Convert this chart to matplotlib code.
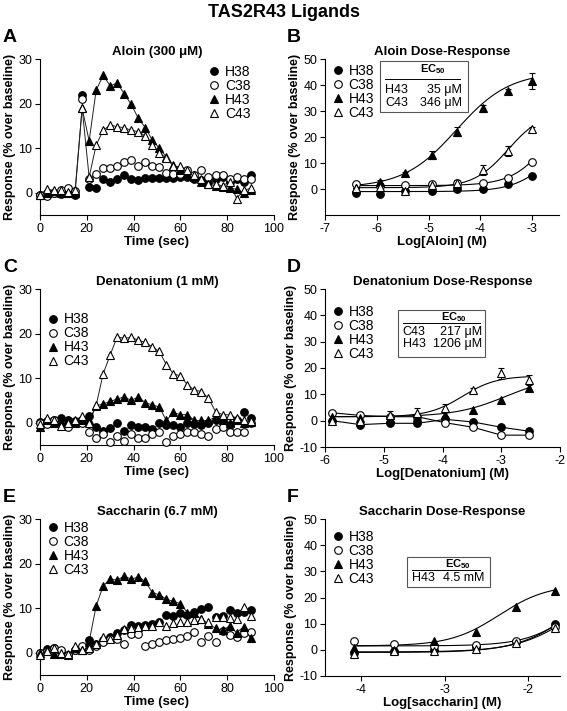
import numpy as np
import matplotlib
matplotlib.use('Agg')
import matplotlib.pyplot as plt
from matplotlib.lines import Line2D
from matplotlib.patches import Rectangle

plt.rcParams['font.family'] = ['Liberation Sans', 'DejaVu Sans']
plt.rcParams['mathtext.fontset'] = 'custom'
plt.rcParams['mathtext.rm'] = 'Liberation Sans'
plt.rcParams['mathtext.bf'] = 'Liberation Sans:bold'
plt.rcParams['axes.unicode_minus'] = False

# ---- time course data (every 3 s, 0-90 s) ----
time_s = [0, 3, 6, 9, 12, 15, 18, 21, 24, 27, 30, 33, 36, 39, 42, 45,
          48, 51, 54, 57, 60, 63, 66, 69, 72, 75, 78, 81, 84, 87, 90]

A_H38 = [-0.5, 0, 0, -0.3, 0, -0.5, 22, 1.2, 1, 3, 2.5, 3, 4, 3, 2.8, 3.2,
         3.3, 3.3, 3.2, 3.3, 3.5, 3.5, 3, 2.8, 2.5, 3, 3.5, 2.5, 3, 2.5, 4]
A_C38 = [-0.5, -0.8, 0, 0.5, 1, 0.3, 21, 3, 4.2, 5.5, 5.5, 6, 7, 7.3, 6, 6.8,
         6, 5.8, 4.5, 4.2, 4.2, 5, 4, 5, 3.5, 4, 4, 3, 3.5, 3, 3]
A_H43 = [-0.5, 0, 0.3, 0, 0, 0, 19, 11.6, 23, 26.3, 24, 24.6, 22.2, 19.8, 16.7, 14.6,
         11.8, 10, 8, 6.3, 5.2, 4.3, 3.5, 2.5, 2, 1.5, 1.2, 1, 0.8, 0, 0.5]
A_C43 = [-0.5, 0.8, 0.5, 0.5, 0.2, 0.5, 19, 3.5, 10.7, 14, 15.2, 14.8, 14.6, 14, 13.7, 12.7,
         10.7, 8.9, 7.8, 5.9, 5.9, 5, 4, 3, 2, 2, 1.5, 2.5, -1.3, 0.5, 1]

C_H38 = [0.2, 0.3, 0.5, 1, 0.5, 0.3, 0.5, 1.5, -1, -1.8, -1.2, 0, -1.8, -0.5, -1, -1,
         -1.5, 0, -0.5, -0.5, -1, 0, -0.3, -0.5, 0, 0.5, 0.3, -0.5, 0.5, 2.3, 1]
C_C38 = [0, -0.3, 0.5, 0, -1, 0, 0, -2, -3.5, -2.5, -4.3, -3, -4, -2.5, -3.5, -3.5,
         -2.5, -2, -4.3, -3, -2.5, -2, -2, -2.5, -3, -1.5, -1, -2, -2, -2, 0]
C_H43 = [-1, 0.5, 0, 0.3, 0.5, 0, 0.5, 0.5, 3.8, 4.2, 4.8, 5.3, 5.8, 5, 5.8, 4.5,
         4, 3.5, 0.5, 2.3, 1.8, 1.8, 0.5, 0.5, 0.5, 1.3, 0.5, 0, 0.5, 0, 0.2]
C_C43 = [-0.4, 1, 0.5, -0.8, 0, 0.5, 1.5, 0, 3.9, 11, 15.2, 19.3, 18.9, 19.2, 18.5, 18,
         17, 16, 13, 11, 10.5, 8.5, 7.3, 7, 5.5, 2.5, 1.8, 1.8, 1, 0.5, 0.3]

E_H38 = [0, 0.8, 1, 0.3, -0.5, 0.5, 1, 2.8, 2, 2.8, 3.5, 4.5, 5, 6.2, 6, 6.2,
         6.5, 7, 8.5, 8.2, 8.8, 8.5, 9.2, 9.8, 10.3, 8, 8.3, 9.5, 9, 9.2, 9.5]
E_C38 = [0, 0.3, 1, 0.5, -0.5, 0.5, 1.5, 0.5, 1.5, 2.3, 3, 3, 2, 4.3, 4.3, 1.5,
         2, 2.3, 2.8, 3, 3.3, 3.8, 4.6, 2.5, 3.8, 2.3, 4.8, 4, 3.5, 4.5, 4.7]
E_H43 = [0, 0.5, -0.3, -0.2, -0.5, 1, 0.5, 2.5, 10.5, 15, 16.5, 16.3, 17.2, 16.5, 17, 16,
         13.5, 13, 12, 11.5, 11, 9, 8.8, 7.5, 6.5, 5.5, 5, 6, 4.5, 5.8, 3.3]
E_C43 = [-0.5, 0.3, 1, 0, -0.3, 1.5, 0.5, 1, 2, 3.5, 3, 4, 5.3, 5.5, 5.8, 6,
         6, 7, 6, 6.7, 7, 7, 7.3, 7.5, 6.8, 8, 8, 7.8, 7.5, 10.3, 8.3]

# ---- dose-response data ----
B_logdose = [-6.41, -5.93, -5.45, -4.93, -4.45, -3.94, -3.47, -3.0]
B_H38 = [-1.6, -1.9, -0.6, -0.6, 0, 0, 1.8, 5]
B_C38 = [1.9, 1.3, 1.5, 2, 2.3, 2.2, 4.2, 10.2]
B_H43 = [0.5, 2.8, 6, 13, 22, 31, 37.8, 41.6]
B_C43 = [0.5, 0.6, -0.9, 1.5, 2.5, 7.3, 14.6, 23]
B_H43_err = [0, 0.5, 0.5, 1.5, 1.8, 1.5, 0.8, 3]
B_C43_err = [0, 0, 0, 0.5, 1, 1.8, 1.8, 0.8]

D_logdose = [-5.88, -5.4, -4.9, -4.43, -3.95, -3.48, -3.0, -2.53]
D_H38 = [0, -1.5, -1, -1, 0.5, -0.5, -2.5, -4]
D_C38 = [3, 2, 1.5, 1.5, -0.8, -2.5, -5.5, -5.5]
D_H43 = [1.5, 1, 1.2, 1.5, 2, 4, 8, 12.5]
D_C43 = [0, 0, 2, 3, 5, 11.5, 18, 15.5]
D_C43_err = [0, 0, 1.5, 1.7, 1.3, 1, 2, 2]

F_logdose = [-4.08, -3.6, -3.13, -2.62, -2.15, -1.68]
F_H38 = [-1.3, -0.5, 0, 1, 3, 9.8]
F_C38 = [3.2, 2.2, 1.6, 1.8, 3.3, 8.8]
F_H43 = [0.7, 0, 3.3, 6.8, 16.5, 22.3]
F_C43 = [-1.5, -0.5, -0.5, 0.5, 2.5, 8.5]

# fitted curve parameters: (bottom, top, logEC50, hill slope)
B_fits = {'H38': (-1, 25, -2.6, 1.2), 'C38': (1.3, 40, -2.6, 1.2),
          'H43': (0.5, 45, -4.46, 0.85), 'C43': (0.5, 30, -3.46, 1.3)}
D_fits = {'H43': (1.5, 17, -2.92, 1.0), 'C43': (1.5, 17, -3.66, 1.5)}
F_fits = {'H38': (-1, 30, -1.45, 1.3), 'C38': (1.5, 30, -1.4, 1.5),
          'H43': (1.5, 25, -2.35, 1.5), 'C43': (-0.8, 27, -1.45, 1.3)}

SERIES = ['H38', 'C38', 'H43', 'C43']
STYLE = {
    'H38': dict(marker='o', mfc='black'),
    'C38': dict(marker='o', mfc='white'),
    'H43': dict(marker='^', mfc='black'),
    'C43': dict(marker='^', mfc='white'),
}
MS = 5.5


def hill(x, bottom, top, logec50, slope):
    return bottom + (top - bottom) / (1 + 10 ** (slope * (logec50 - x)))


fig = plt.figure(figsize=(5.67, 7.11), dpi=100)


def add_ax(l, t, r, b):
    ax = fig.add_axes([l / 567, 1 - b / 711, (r - l) / 567, (b - t) / 711])
    for s in ('top', 'right'):
        ax.spines[s].set_visible(False)
    for s in ('left', 'bottom'):
        ax.spines[s].set_linewidth(0.8)
    ax.tick_params(direction='out', length=3.5, width=0.8, labelsize=9, pad=2)
    ax.set_ylabel('Response (% over baseline)', fontsize=9, fontweight='bold', labelpad=2)
    return ax


def draw_legend(ax, x, y):
    handles = [Line2D([0], [0], linestyle='', mec='black', mew=0.8, ms=MS, **STYLE[k])
               for k in SERIES]
    ax.legend(handles, SERIES, loc='upper left', bbox_to_anchor=(x, y), frameon=False,
              fontsize=10, handlelength=0.8, handletextpad=0.4, labelspacing=0.0,
              borderpad=0, borderaxespad=0)


def time_panel(ax, data, lined, title, legend_xy):
    for k in SERIES:
        if k in lined:
            ax.plot(time_s, data[k], color='#222222', lw=0.7, zorder=2)
        ax.plot(time_s, data[k], linestyle='', mec='black', mew=0.8, ms=MS,
                clip_on=False, zorder=3, **STYLE[k])
    ax.set_xlim(0, 100)
    ax.set_ylim(-5, 30)
    ax.set_xticks([0, 20, 40, 60, 80, 100])
    ax.set_yticks([0, 10, 20, 30])
    ax.set_xlabel('Time (sec)', fontsize=9.5, fontweight='bold', labelpad=1)
    ax.set_title(title, fontsize=9.5, fontweight='bold', pad=3)
    draw_legend(ax, *legend_xy)


def dose_panel(ax, x, data, errs, fits, xlim, xticks, yticks, xlabel, title, legend_xy):
    xs = np.linspace(x[0], x[-1], 200)
    for k in SERIES:
        if k in fits:
            ax.plot(xs, hill(xs, *fits[k]), color='black', lw=0.8, zorder=2)
        else:
            ax.plot(x, data[k], color='black', lw=0.8, zorder=2)
        if k in errs:
            ax.errorbar(x, data[k], yerr=errs[k], fmt='none', ecolor='black',
                        elinewidth=0.8, capsize=2.5, capthick=0.8, zorder=2)
        ax.plot(x, data[k], linestyle='', mec='black', mew=0.8, ms=MS,
                clip_on=False, zorder=3, **STYLE[k])
    ax.set_xlim(*xlim)
    ax.set_ylim(-10, 50)
    ax.set_xticks(xticks)
    ax.set_yticks(yticks)
    ax.set_xlabel(xlabel, fontsize=9.5, fontweight='bold', labelpad=1)
    ax.set_title(title, fontsize=9.5, fontweight='bold', pad=3)
    draw_legend(ax, *legend_xy)


def ec50_box(ax, box, header_xy, line_y, line_x, rows, row_ys, lab_x, val_x):
    x0, y0, x1, y1 = box
    ax.add_patch(Rectangle((x0, y0), x1 - x0, y1 - y0, transform=ax.transAxes,
                           fill=False, ec='#555555', lw=0.8, clip_on=False))
    ax.text(header_xy[0], header_xy[1], r'EC$_{\mathbf{50}}$', transform=ax.transAxes,
            ha='center', va='center', fontsize=8, fontweight='bold')
    ax.plot(line_x, [line_y, line_y], transform=ax.transAxes, color='black', lw=0.7,
            clip_on=False)
    for (lab, val), ry in zip(rows, row_ys):
        ax.text(lab_x, ry, lab, transform=ax.transAxes, ha='left', va='center', fontsize=9)
        ax.text(val_x, ry, val, transform=ax.transAxes, ha='right', va='center', fontsize=9)


fig.text(0.5, 0.982, 'TAS2R43 Ligands', ha='center', va='center', fontsize=13,
         fontweight='bold')
for lab, (px, py) in zip('ABCDEF', [(3, 38), (287, 38), (3, 268), (287, 268),
                                     (3, 498), (287, 498)]):
    fig.text(px / 567, 1 - py / 711, lab, ha='left', va='center', fontsize=14,
             fontweight='bold')

# A
axA = add_ax(40, 59, 274, 215)
time_panel(axA, {'H38': A_H38, 'C38': A_C38, 'H43': A_H43, 'C43': A_C43},
           ('H43', 'C43'), 'Aloin (300 μM)', (0.72, 0.96))

# B
axB = add_ax(325, 59, 559, 215)
dose_panel(axB, B_logdose, {'H38': B_H38, 'C38': B_C38, 'H43': B_H43, 'C43': B_C43},
           {'H43': B_H43_err, 'C43': B_C43_err}, B_fits, (-7, -2.48),
           [-7, -6, -5, -4, -3], [0, 10, 20, 30, 40, 50], 'Log[Aloin] (M)',
           'Aloin Dose-Response', (0.03, 0.97))
ec50_box(axB, (0.235, 0.66, 0.61, 0.985), (0.46, 0.935), 0.87, [0.256, 0.575],
         [('H43', '35 μM'), ('C43', '346 μM')], [0.80, 0.72], 0.256, 0.585)

# C
axC = add_ax(40, 289, 274, 445)
time_panel(axC, {'H38': C_H38, 'C38': C_C38, 'H43': C_H43, 'C43': C_C43},
           ('H43', 'C43'), 'Denatonium (1 mM)', (0.03, 0.85))

# D
axD = add_ax(325, 289, 560, 447)
dose_panel(axD, D_logdose, {'H38': D_H38, 'C38': D_C38, 'H43': D_H43, 'C43': D_C43},
           {'C43': D_C43_err}, D_fits, (-6, -2), [-6, -5, -4, -3, -2],
           [-10, 0, 10, 20, 30, 40, 50], 'Log[Denatonium] (M)',
           'Denatonium Dose-Response', (0.03, 0.90))
ec50_box(axD, (0.31, 0.57, 0.68, 0.87), (0.55, 0.82), 0.785, [0.33, 0.66],
         [('C43', '217 μM'), ('H43', '1206 μM')], [0.73, 0.65], 0.33, 0.67)

# E
axE = add_ax(40, 519, 274, 675)
time_panel(axE, {'H38': E_H38, 'C38': E_C38, 'H43': E_H43, 'C43': E_C43},
           ('H43',), 'Saccharin (6.7 mM)', (0.03, 0.99))

# F
axF = add_ax(325, 519, 560, 676)
dose_panel(axF, F_logdose, {'H38': F_H38, 'C38': F_C38, 'H43': F_H43, 'C43': F_C43},
           {}, F_fits, (-4.43, -1.62), [-4, -3, -2],
           [-10, 0, 10, 20, 30, 40, 50], 'Log[saccharin] (M)',
           'Saccharin Dose-Response', (0.03, 0.93))
ec50_box(axF, (0.35, 0.57, 0.70, 0.755), (0.565, 0.71), 0.673, [0.37, 0.66],
         [('H43', '4.5 mM')], [0.625], 0.37, 0.68)

fig.savefig('out.png', dpi=100)
